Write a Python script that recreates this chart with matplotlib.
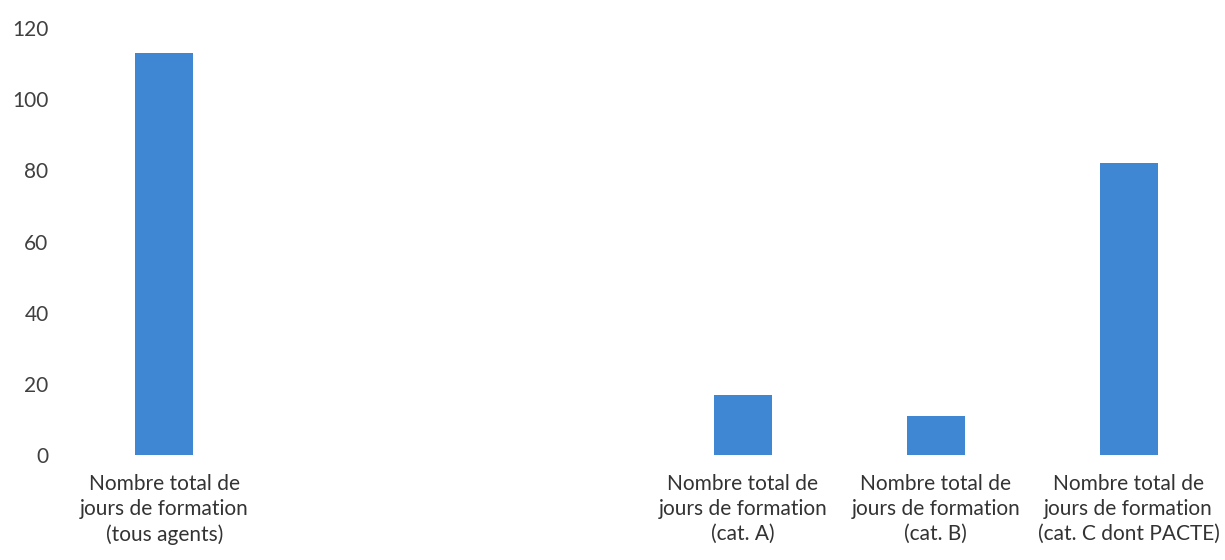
import matplotlib
matplotlib.use("Agg")
import matplotlib.pyplot as plt
import numpy as np

categories = [
    "Nombre total de\njours de formation\n(tous agents)",
    "",
    "",
    "Nombre total de\njours de formation\n(cat. A)",
    "Nombre total de\njours de formation\n(cat. B)",
    "Nombre total de\njours de formation\n(cat. C dont PACTE)",
]
values = [113, np.nan, np.nan, 17, 11, 82]
yticks = [0, 20, 40, 60, 80, 100, 120]

plt.rcParams['font.family'] = ['Lato', 'DejaVu Sans']
fig = plt.figure(figsize=(12.25, 5.6), dpi=100)
ax = fig.add_axes([0.0555, 0.1875, 0.9445, 0.7625])

x = np.arange(len(categories))
ax.bar(x, values, width=0.3, color="#3f87d2")
ax.set_xlim(-0.5, len(categories) - 0.5)
ax.set_ylim(0, 120)
ax.set_yticks(yticks)
ax.set_yticklabels([str(v) for v in yticks], fontsize=15, color="#404040")
ax.set_xticks(x)
ax.set_xticklabels(categories, fontsize=15, color="#333333", linespacing=1.3)
ax.tick_params(axis='both', length=0)
ax.tick_params(axis='y', pad=14)
ax.tick_params(axis='x', pad=14)
for s in ax.spines.values():
    s.set_visible(False)

fig.savefig("out.png", dpi=100)
